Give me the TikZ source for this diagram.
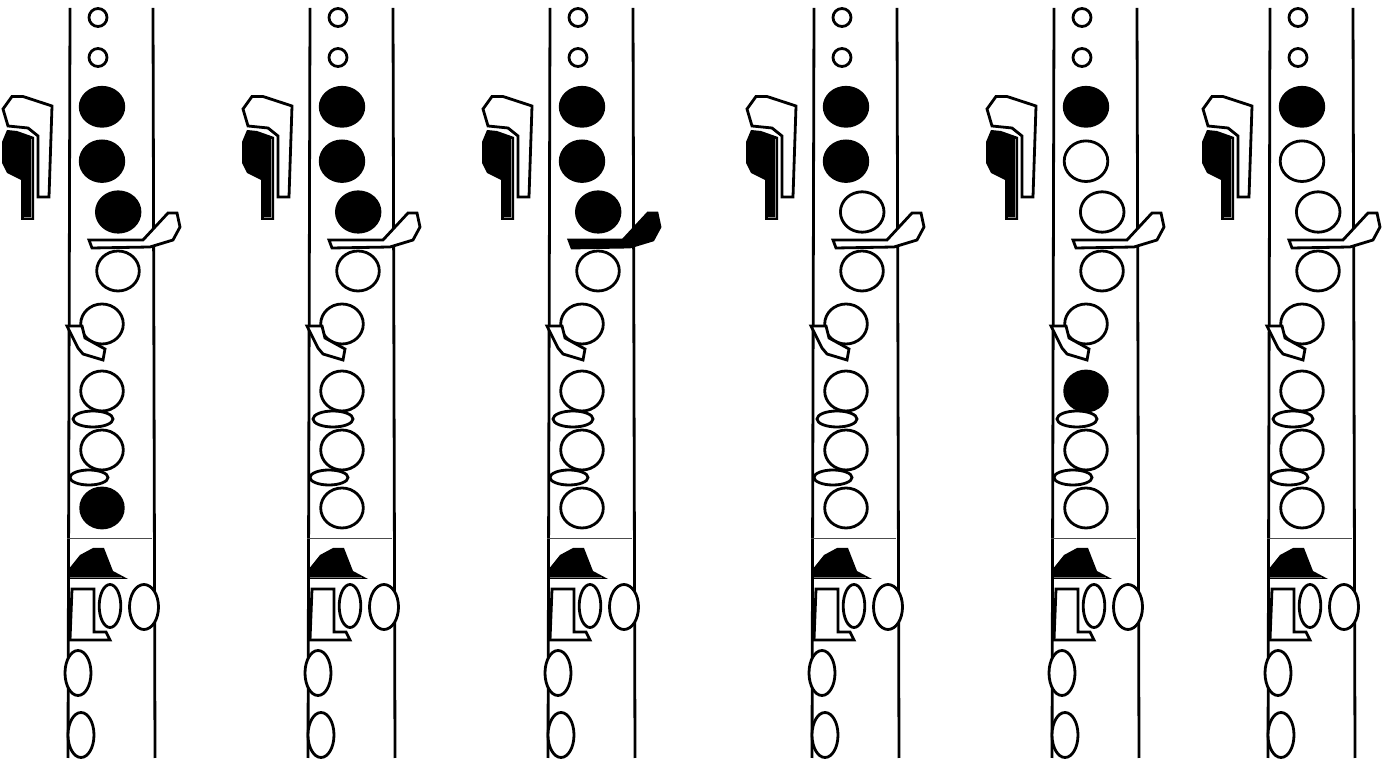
\documentclass[tikz,border=0pt]{standalone}
\tikzset{
  outl/.style={draw=black,line width=1.4pt,line join=miter},
  keyw/.style={outl,fill=white},
  tube/.style={draw=black,line width=1.4pt}
}
% #1 x offset; #2 hole 106; #3 hole 161; #4 hole 212; #5 palm lever; #6 hole 391; #7 hole 508
\newcommand{\fingering}[7]{%
\begin{scope}[xshift=#1*0.5pt]
  \draw[tube] (70,8) -- (68,758);
  \draw[tube] (153,8) -- (155,758);
  \draw[draw=black!70,line width=0.35pt] (67,538) -- (152,538);
  % small vent holes
  \draw[outl,fill=white] (98,17.5) circle[radius=9];
  \draw[outl,fill=white] (98,57.5) circle[radius=9];
  % main holes
  \draw[outl,fill=#2] (102,106.8) ellipse[x radius=21.8,y radius=19.5];
  \draw[outl,fill=#3] (102,161.2) ellipse[x radius=21.8,y radius=20.3];
  \draw[outl,fill=#4] (118.2,212) ellipse[x radius=21.8,y radius=20.2];
  \draw[outl,fill=white] (118,271) ellipse[x radius=21.3,y radius=20];
  \draw[outl,fill=white] (102,324) ellipse[x radius=21.3,y radius=20];
  \draw[outl,fill=#6] (102,391) ellipse[x radius=21.3,y radius=20];
  \draw[outl,fill=white] (102,450) ellipse[x radius=21.3,y radius=20];
  \draw[outl,fill=#7] (102,508) ellipse[x radius=21.3,y radius=20];
  \draw[outl,fill=white] (93,419) ellipse[x radius=20,y radius=8];
  \draw[outl,fill=white] (89,477.5) ellipse[x radius=19,y radius=7.5];
  % upper left keys
  \draw[keyw] (12,96.5) -- (23,96.5) -- (52,106) -- (49,197) -- (38,197) -- (38,136) -- (28,128) -- (8,126) -- (3,109) -- cycle;
  \fill[black] (7,130) -- (17,131) -- (34,137) -- (34,220) -- (21,220) -- (21,180) -- (7,173) -- (2,163) -- (2,142) -- cycle;
  \draw[draw=black!45,line width=0.35pt] (31,139) -- (31,217) -- (24,217);
  % palm lever
  \draw[outl,fill=#5] (89,240) -- (143,240) -- (168,213) -- (177,213) -- (180,227) -- (173,240) -- (150,247) -- (92,248) -- cycle;
  % side lever
  \draw[keyw] (67,326) -- (82,326) -- (85,338) -- (105,349) -- (103,360) -- (83,354) -- (78,348) -- cycle;
  % lower black key
  \fill[black] (68,570) -- (80,555) -- (93,548) -- (104,548) -- (113,571) -- (128,579) -- (68,579) -- cycle;
  \draw[draw=black!55,line width=0.35pt] (70,577) -- (122,577);
  % lower white key
  \draw[keyw] (72,589) -- (94,589) -- (94,632) -- (106,632) -- (110,640) -- (70,640) -- cycle;
  % lower ovals
  \draw[outl,fill=white] (110,606) ellipse[x radius=10.8,y radius=21.5];
  \draw[outl,fill=white] (144,607) ellipse[x radius=14.5,y radius=22.5];
  \draw[outl,fill=white] (78,673) ellipse[x radius=13,y radius=22.5];
  \draw[outl,fill=white] (81,735) ellipse[x radius=13,y radius=22.5];
\end{scope}}
\begin{document}
\begin{tikzpicture}[x=0.5pt,y=-0.5pt]
  \useasboundingbox (0,0) rectangle (1398,763);
  \fill[white] (0,0) rectangle (1398,763);
  \fingering{0}{black}{black}{black}{white}{white}{black}
  \fingering{240}{black}{black}{black}{white}{white}{white}
  \fingering{480}{black}{black}{black}{black}{white}{white}
  \fingering{744}{black}{black}{white}{white}{white}{white}
  \fingering{984}{black}{white}{white}{white}{black}{white}
  \fingering{1200}{black}{white}{white}{white}{white}{white}
\end{tikzpicture}
\end{document}
